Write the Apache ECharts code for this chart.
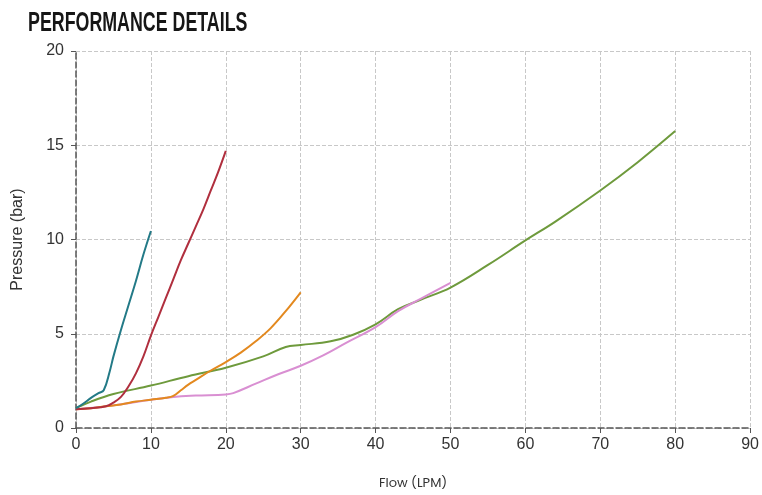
<!DOCTYPE html>
<html><head><meta charset="utf-8">
<script src="https://cdn.jsdelivr.net/npm/echarts@6/dist/echarts.min.js"></script>
<style>html,body{margin:0;padding:0;background:#fff}#c{width:762px;height:495px}</style>
</head><body><div id="c"></div>
<script>
const titleText = 'PERFORMANCE DETAILS';
const xTicks = [0,10,20,30,40,50,60,70,80,90];
const yTicks = [0,5,10,15,20];
const tealData = [[0,1.05],[1,1.3],[2,1.6],[3,1.85],[3.7,2.0],[4.5,3.0],[5,3.8],[6,5.2],[7,6.5],[8,7.8],[9,9.2],[10,10.45]];
const redData = [[0,1.0],[2,1.05],[4,1.15],[5,1.35],[6,1.65],[7,2.2],[8,2.9],[9,3.8],[10,4.9],[11,5.9],[12,6.9],[13,7.9],[14,8.9],[15,9.8],[16,10.7],[17,11.6],[18,12.6],[19,13.6],[20,14.7]];
const orangeData = [[0,1.0],[2,1.05],[4,1.15],[6,1.25],[8,1.4],[10,1.5],[12,1.6],[13,1.7],[14,2.0],[15,2.3],[16,2.55],[18,3.05],[20,3.5],[22,4.0],[24,4.6],[26,5.3],[28,6.2],[30,7.2]];
const greenData = [[0,1.05],[2,1.4],[5,1.8],[10,2.25],[15,2.75],[20,3.2],[25,3.8],[28,4.3],[30,4.4],[34,4.6],[37,4.95],[40,5.5],[43,6.3],[46,6.8],[50,7.45],[55,8.65],[60,9.95],[64,10.95],[70,12.6],[75,14.1],[80,15.75]];
const pinkData = [[0,1.0],[5,1.2],[10,1.5],[13,1.65],[16,1.72],[20,1.78],[21,1.85],[24,2.35],[27,2.85],[30,3.3],[33,3.85],[36,4.5],[40,5.35],[43,6.2],[46,6.85],[50,7.7]];

const chart = echarts.init(document.getElementById('c'));
function ser(name, data, color){
  return {name, type:'line', data, showSymbol:false, smooth:0.4, lineStyle:{color, width:2}, itemStyle:{color}};
}
chart.setOption({
  animation:false,
  graphic:[{type:'text', left:28, top:10, scaleX:0.66,
    style:{text:titleText, font:'bold 27px "Liberation Sans", sans-serif', fill:'#161616'}}],
  grid:{left:76, right:10, top:51, bottom:67},
  xAxis:{type:'value', min:0, max:90, interval:10,
    name:'Flow (LPM)', nameLocation:'middle', nameGap:49,
    nameTextStyle:{fontFamily:'Poppins, Open Sans, sans-serif', fontSize:13, color:'#333'},
    axisLine:{show:true, lineStyle:{color:'#555', type:'dashed', width:1.5}},
    axisTick:{show:true, length:5, lineStyle:{color:'#555'}},
    axisLabel:{fontFamily:'Liberation Sans', fontSize:16, color:'#333', margin:9},
    splitLine:{show:true, lineStyle:{color:'#c8c8c8', type:'dashed', width:1}}},
  yAxis:{type:'value', min:0, max:20, interval:5,
    name:'Pressure (bar)', nameLocation:'middle', nameGap:50, nameRotate:90,
    nameTextStyle:{fontFamily:'Liberation Sans', fontSize:16, color:'#333'},
    axisLine:{show:true, lineStyle:{color:'#555', type:'dashed', width:1.5}},
    axisTick:{show:true, length:5, lineStyle:{color:'#555'}},
    axisLabel:{fontFamily:'Liberation Sans', fontSize:16, color:'#333', margin:12},
    splitLine:{show:true, lineStyle:{color:'#c8c8c8', type:'dashed', width:1}}},
  series:[
    ser('A', greenData, '#6e9a3c'),
    ser('B', pinkData, '#d98fd2'),
    ser('C', orangeData, '#e3891f'),
    ser('D', redData, '#b02f3e'),
    ser('E', tealData, '#237a87')
  ]
});
</script></body></html>
